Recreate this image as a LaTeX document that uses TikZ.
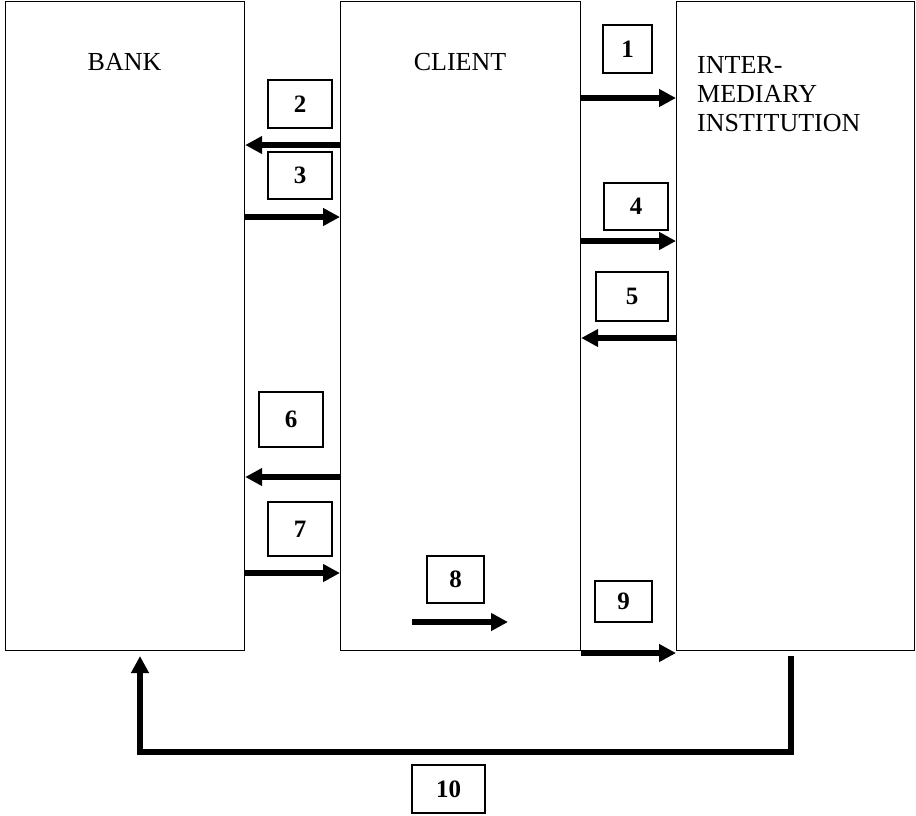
\documentclass[tikz,border=0pt]{standalone}
\usepackage{fontspec}
\setmainfont{Liberation Serif}
\usetikzlibrary{positioning,arrows.meta}
\tikzset{
  party/.style  = {rectangle, draw=black, line width=1.2pt, inner sep=0pt,
                   anchor=north west},
  title/.style  = {font=\fontsize{26}{29}\selectfont, inner sep=0pt},
  numbox/.style = {rectangle, draw=black, line width=1.2pt, inner sep=0pt,
                   font=\fontsize{25}{28}\selectfont\bfseries},
  flow/.style   = {-{Triangle[length=17pt,width=17pt]}, line width=5.5pt},
}

\begin{document}
\begin{tikzpicture}[x=1pt,y=-1pt]
  \useasboundingbox (0,0) rectangle (916,815);
  % the three parties
  \node[party, minimum width=239pt, minimum height=649pt] (bank)   at (5,1) {};
  \node[party, minimum width=240pt, minimum height=649pt] (client) at (340,1) {};
  \node[party, minimum width=238pt, minimum height=649pt] (inter)  at (676,1) {};
  \node[title, anchor=base] (banktxt)   at (124.5,70) {BANK};
  \node[title, anchor=base] (clienttxt) at (460,70) {CLIENT};
  \node[title, anchor=north west, align=left] (intertxt) at (697,56)
    {INTER-\\MEDIARY\\INSTITUTION};

  % step numbers
  \node[numbox, minimum width=49pt, minimum height=48pt] (n1)  at (627.5,49) {1};
  \node[numbox, minimum width=64pt, minimum height=48pt] (n2)  at (300,104) {2};
  \node[numbox, minimum width=64pt, minimum height=47pt] (n3)  at (300,175.5) {3};
  \node[numbox, minimum width=64pt, minimum height=47pt] (n4)  at (636,206.5) {4};
  \node[numbox, minimum width=72pt, minimum height=49pt] (n5)  at (632,296.5) {5};
  \node[numbox, minimum width=64pt, minimum height=55pt] (n6)  at (291,419.5) {6};
  \node[numbox, minimum width=64pt, minimum height=54pt] (n7)  at (300,529) {7};
  \node[numbox, minimum width=57pt, minimum height=47pt] (n8)  at (455.5,579.5) {8};
  \node[numbox, minimum width=57pt, minimum height=41pt] (n9)  at (623.5,601.5) {9};
  \node[numbox, minimum width=73pt, minimum height=48pt] (n10) at (448.5,789) {10};

  % flows between the parties
  \draw[flow] (client.east |- 0,98)  -- (inter.west |- 0,98);
  \draw[flow] (client.west |- 0,145) -- (bank.east |- 0,145);
  \draw[flow] (bank.east |- 0,217)   -- (client.west |- 0,217);
  \draw[flow] (client.east |- 0,241) -- (inter.west |- 0,241);
  \draw[flow] (inter.west |- 0,338)  -- (client.east |- 0,338);
  \draw[flow] (client.west |- 0,477) -- (bank.east |- 0,477);
  \draw[flow] (bank.east |- 0,573)   -- (client.west |- 0,573);
  \coordinate (m8a) at (412,622);
  \coordinate (m8b) at (508,622);
  \draw[flow] (m8a) -- (m8b);
  \draw[flow] (client.east |- 0,653) -- (inter.west |- 0,653);
  \coordinate (loopR) at (791,656);
  \coordinate (loopL) at (140,656);
  \draw[flow] (loopR) -- ++(0,96) -| (loopL);
\end{tikzpicture}
\end{document}
